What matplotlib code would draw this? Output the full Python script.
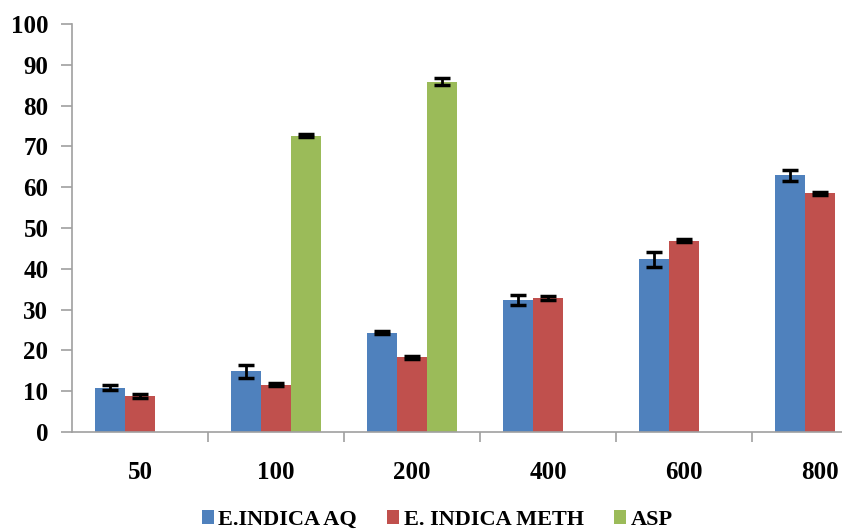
import matplotlib
matplotlib.use('Agg')
import matplotlib.pyplot as plt
import numpy as np

categories = ['50', '100', '200', '400', '600', '800']
series_names = ['E.INDICA AQ', 'E. INDICA METH', 'ASP']

aq_values = [10.9, 14.9, 24.3, 32.4, 42.3, 62.9]
aq_errors = [0.7, 1.6, 0.4, 1.2, 1.8, 1.3]
meth_values = [8.8, 11.6, 18.3, 32.9, 46.9, 58.5]
meth_errors = [0.4, 0.3, 0.3, 0.5, 0.3, 0.3]
asp_values = [np.nan, 72.6, 85.9, np.nan, np.nan, np.nan]
asp_errors = [np.nan, 0.4, 0.9, np.nan, np.nan, np.nan]

colors = ['#4F81BD', '#C0504D', '#9BBB59']

plt.rcParams['font.family'] = ['Liberation Serif', 'DejaVu Serif']
plt.rcParams['font.weight'] = 'bold'

fig = plt.figure(figsize=(8.42, 5.32), dpi=100)
ax = fig.add_axes([72 / 842, 100 / 532, 816 / 842, 408 / 532])

x = np.arange(len(categories))
width = 0.22
err_style = dict(ecolor='black', elinewidth=2, capsize=6, capthick=2.5)

series = [(aq_values, aq_errors), (meth_values, meth_errors), (asp_values, asp_errors)]
for i, (vals, errs) in enumerate(series):
    ax.bar(x + (i - 1) * width, vals, width, yerr=errs, color=colors[i],
           label=series_names[i], error_kw=err_style, zorder=2)

ax.set_xlim(-0.5, len(categories) - 0.5)
ax.set_ylim(0, 100)
ax.set_yticks(np.arange(0, 101, 10))
ax.set_xticks(x)
ax.set_xticklabels(categories)
ax.set_xticks(np.arange(0.5, len(categories) - 0.5, 1), minor=True)

for side in ['top', 'right']:
    ax.spines[side].set_visible(False)
for side in ['left', 'bottom']:
    ax.spines[side].set_color('#A0A0A0')
    ax.spines[side].set_linewidth(1.2)

ax.tick_params(axis='y', length=8, width=1.2, color='#A0A0A0', pad=9, labelsize=18)
ax.tick_params(axis='x', which='major', length=0, pad=21, labelsize=18)
ax.tick_params(axis='x', which='minor', length=7, width=1.2, color='#A0A0A0')

fig.legend(loc='center', bbox_to_anchor=(437 / 842, 1 - 520 / 532), ncol=3,
           frameon=False, fontsize=16, handlelength=0.55, handleheight=0.55,
           handletextpad=0.2, columnspacing=1.35)

fig.savefig('out.png', dpi=100)
